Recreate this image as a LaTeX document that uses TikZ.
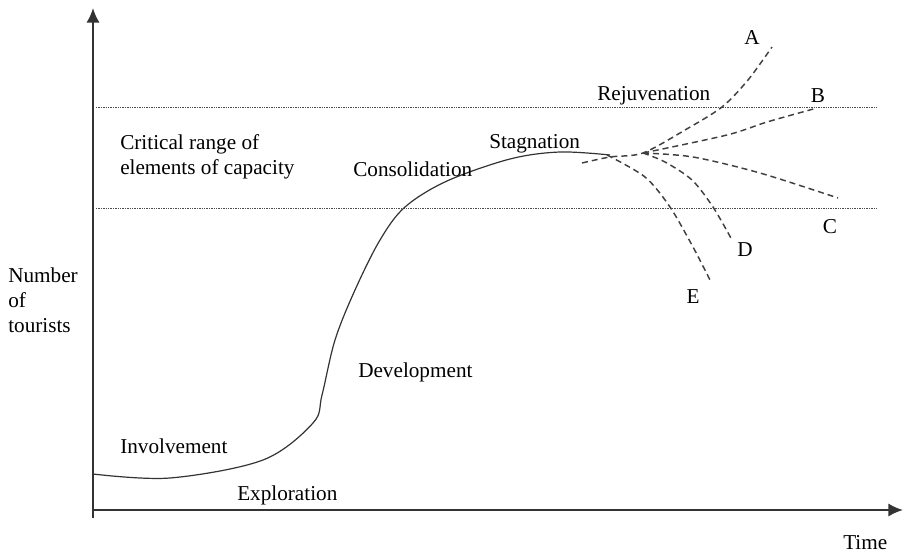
\documentclass[tikz,border=0pt]{standalone}
\usepackage{fontspec}
\setmainfont{Liberation Serif}
\usetikzlibrary{arrows.meta}
\begin{document}
\begin{tikzpicture}[x=0.75pt,y=-0.75pt]
		\tikzset{lbl/.style = {inner sep=0pt,font=\fontsize{15.9}{18.75}\selectfont}}
		\tikzset{axis/.style = {-{Latex[length=11pt,width=10pt]},line width=1.6pt,draw=black!80,fill=black!80}}
		\tikzset{capline/.style = {draw=black!70,line width=0.7pt,dash pattern=on 1pt off 0.8pt}}
		\tikzset{branch/.style = {draw=black!75,line width=1.1pt,dash pattern=on 4.5pt off 3pt}}
		\useasboundingbox (0,0) rectangle (903,553);
		% axes
		\coordinate (o) at (93,510);
		\coordinate (ytop) at (93,8);
		\coordinate (xend) at (903,510);
		\draw[axis] (93,518) -- (ytop);
		\draw[axis] (o) -- (xend);
		% critical range
		\draw[capline] (96,107) -- (878,107);
		\draw[capline] (96,208) -- (878,208);
		% life cycle curve
		\draw[line width=0.9pt,black!80] plot[smooth,tension=0.55] coordinates {(93,474) (170,478) (263,460) (313,423) (322,395) (335,340) (355,290) (380,240) (405,207) (447,181) (510,159) (560,152) (610,155)};
		\coordinate (fork) at (643,153);
		% branches
		\draw[branch] plot[smooth] coordinates {(582,163) (610,157) (fork) (685,130) (722,107) (748,80) (772,47)};
		\draw[branch] plot[smooth] coordinates {(fork) (727,135) (767,122) (817,108)};
		\draw[branch] plot[smooth] coordinates {(fork) (693,157) (760,173) (838,198)};
		\draw[branch] plot[smooth] coordinates {(fork) (665,162) (692,180) (713,207) (732,240)};
		\draw[branch] plot[smooth] coordinates {(607,155) (645,177) (670,207) (693,247) (710,280)};
		% labels
		\node[lbl,anchor=west,align=left] (range) at (120,156.5) {Critical range of\\elements of capacity};
		\node[lbl,anchor=west,align=left] (ylabel) at (8,300) {Number\\of\\tourists};
		\node[lbl,anchor=west] (time) at (843,543) {Time};
		\node[lbl,anchor=west] (explo) at (237,495) {Exploration};
		\node[lbl,anchor=west] (invol) at (120,446) {Involvement};
		\node[lbl,anchor=west] (devel) at (358,372) {Development};
		\node[lbl,anchor=west] (conso) at (353,169) {Consolidation};
		\node[lbl,anchor=west] (stag) at (489,144) {Stagnation};
		\node[lbl,anchor=west] (rejuv) at (597,96) {Rejuvenation};
		\node[lbl] (la) at (752,38) {A};
		\node[lbl] (lb) at (818,96) {B};
		\node[lbl] (lc) at (830,227) {C};
		\node[lbl] (ld) at (745,250) {D};
		\node[lbl] (le) at (693,297) {E};
	\end{tikzpicture}
\end{document}
